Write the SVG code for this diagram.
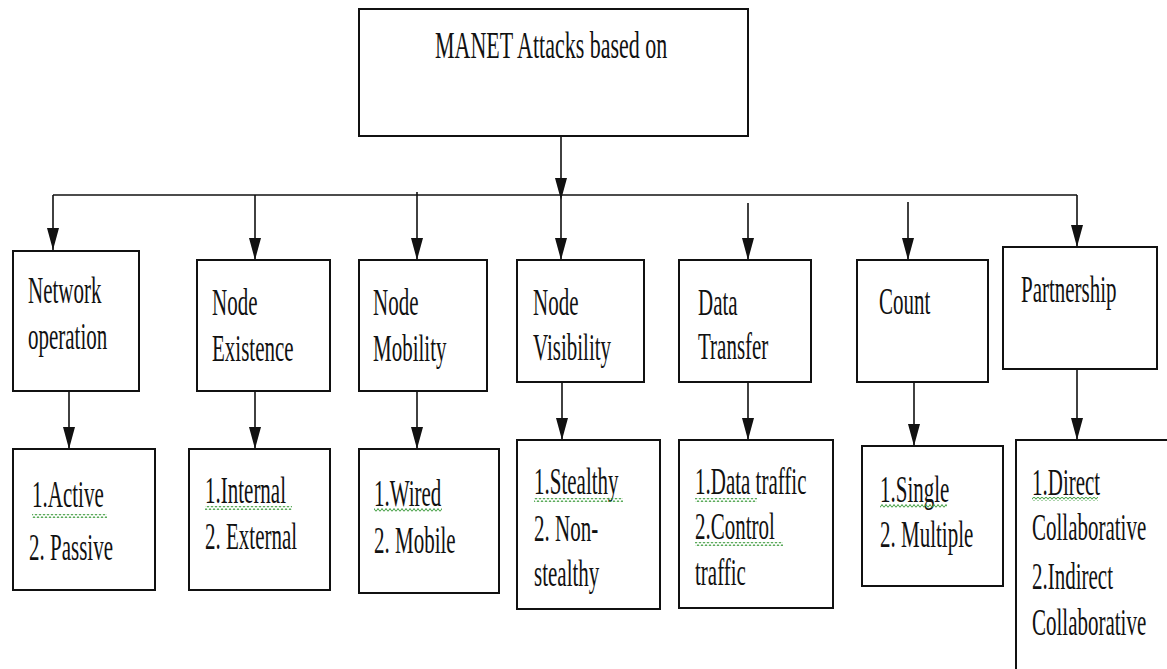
<svg xmlns="http://www.w3.org/2000/svg" width="1167" height="669" viewBox="0 0 1167 669">
<style>
  .box { fill: #fff; stroke: #111; stroke-width: 2; }
  .t { font-family: 'Liberation Serif', 'DejaVu Serif', serif; font-size: 21px; fill: #111; }
  .tt { font-family: 'Liberation Serif', 'DejaVu Serif', serif; font-size: 22px; fill: #111; }
  .ln { stroke: #111; stroke-width: 1.6; fill: none; }
  .arr { stroke: #111; stroke-width: 1.6; fill: none; marker-end: url(#ah); }
  .wav { fill: url(#wave); }
</style>
<defs>
  <marker id="ah" markerUnits="userSpaceOnUse" markerWidth="22" markerHeight="12" refX="22" refY="6" orient="auto">
    <path d="M0,0 L22,6 L0,12 z" fill="#111"/>
  </marker>
  <pattern id="wave" patternUnits="userSpaceOnUse" x="0" y="0" width="4" height="4">
    <path d="M0,3.5 L2,0.5 L4,3.5" stroke="#3a9a3a" stroke-width="1" fill="none"/>
  </pattern>
</defs>
<rect width="1167" height="669" fill="#fff"/>

<g id="connectors">
  <line class="arr" x1="561" y1="136" x2="561" y2="200"/>
  <line class="ln" x1="53" y1="195" x2="1077" y2="195"/>
  <line class="arr" x1="53" y1="195" x2="53" y2="250"/>
  <line class="arr" x1="255" y1="195" x2="255" y2="260"/>
  <line class="arr" x1="417" y1="192" x2="417" y2="260"/>
  <line class="arr" x1="561" y1="200" x2="561" y2="260"/>
  <line class="arr" x1="748" y1="203" x2="748" y2="260"/>
  <line class="arr" x1="908" y1="202" x2="908" y2="260"/>
  <line class="arr" x1="1077" y1="195" x2="1077" y2="247"/>
  <line class="arr" x1="69" y1="391" x2="69" y2="449"/>
  <line class="arr" x1="255" y1="391" x2="255" y2="449"/>
  <line class="arr" x1="417" y1="391" x2="417" y2="449"/>
  <line class="arr" x1="562" y1="370" x2="562" y2="440"/>
  <line class="arr" x1="748" y1="377" x2="748" y2="440"/>
  <line class="arr" x1="914" y1="382" x2="914" y2="446"/>
  <line class="arr" x1="1077" y1="369" x2="1077" y2="440"/>
</g>

<g id="root">
  <rect class="box" x="359" y="9" width="389" height="127"/>
  <text class="tt" font-family="Liberation Serif" transform="translate(435,58) scale(1,1.75)">MANET Attacks based on</text>
</g>

<g id="network-operation">
  <rect class="box" x="13" y="251" width="126" height="140"/>
  <text class="t" transform="translate(28,303) scale(1,1.8)">Network</text>
  <text class="t" transform="translate(28,349) scale(1,1.8)">operation</text>
</g>
<g id="node-existence">
  <rect class="box" x="197" y="260" width="133" height="131"/>
  <text class="t" transform="translate(212,315) scale(1,1.8)">Node</text>
  <text class="t" transform="translate(212,361) scale(1,1.8)">Existence</text>
</g>
<g id="node-mobility">
  <rect class="box" x="359" y="260" width="128" height="131"/>
  <text class="t" transform="translate(373,315) scale(1,1.8)">Node</text>
  <text class="t" transform="translate(373,361) scale(1,1.8)">Mobility</text>
</g>
<g id="node-visibility">
  <rect class="box" x="517" y="260" width="127" height="122"/>
  <text class="t" transform="translate(533,315) scale(1,1.8)">Node</text>
  <text class="t" transform="translate(533,360) scale(1,1.8)">Visibility</text>
</g>
<g id="data-transfer">
  <rect class="box" x="679" y="260" width="132" height="122"/>
  <text class="t" transform="translate(698,315) scale(1,1.8)">Data</text>
  <text class="t" transform="translate(698,359) scale(1,1.8)">Transfer</text>
</g>
<g id="count">
  <rect class="box" x="857" y="260" width="131" height="122"/>
  <text class="t" transform="translate(879,314) scale(1,1.8)">Count</text>
</g>
<g id="partnership">
  <rect class="box" x="1003" y="247" width="154" height="122"/>
  <text class="t" transform="translate(1021,302) scale(1,1.8)">Partnership</text>
</g>

<g id="active-passive">
  <rect class="box" x="13" y="449" width="142" height="141"/>
  <text class="t" transform="translate(32,507) scale(1,1.8)">1.Active</text>
  <rect class="wav" x="32" y="514" width="75" height="4"/>
  <text class="t" transform="translate(29,560) scale(1,1.8)">2. Passive</text>
</g>
<g id="internal-external">
  <rect class="box" x="189" y="449" width="141" height="141"/>
  <text class="t" transform="translate(205,503) scale(1,1.8)">1.Internal</text>
  <rect class="wav" x="205" y="506" width="87" height="4"/>
  <text class="t" transform="translate(205,549) scale(1,1.8)">2. External</text>
</g>
<g id="wired-mobile">
  <rect class="box" x="359" y="449" width="140" height="144"/>
  <text class="t" transform="translate(374,506) scale(1,1.8)">1.Wired</text>
  <rect class="wav" x="374" y="508" width="68" height="4"/>
  <text class="t" transform="translate(374,553) scale(1,1.8)">2. Mobile</text>
</g>
<g id="stealthy">
  <rect class="box" x="517" y="440" width="143" height="169"/>
  <text class="t" transform="translate(534,494) scale(1,1.8)">1.Stealthy</text>
  <rect class="wav" x="534" y="498" width="89" height="4"/>
  <text class="t" transform="translate(534,541) scale(1,1.8)">2. Non-</text>
  <text class="t" transform="translate(534,586) scale(1,1.8)">stealthy</text>
</g>
<g id="traffic">
  <rect class="box" x="679" y="440" width="154" height="168"/>
  <text class="t" transform="translate(695,494) scale(1,1.8)">1.Data traffic</text>
  <rect class="wav" x="695" y="498" width="62" height="4"/>
  <text class="t" transform="translate(695,539) scale(1,1.8)">2.Control</text>
  <rect class="wav" x="695" y="542" width="88" height="4"/>
  <text class="t" transform="translate(695,585) scale(1,1.8)">traffic</text>
</g>
<g id="single-multiple">
  <rect class="box" x="862" y="446" width="141" height="140"/>
  <text class="t" transform="translate(880,502) scale(1,1.8)">1.Single</text>
  <rect class="wav" x="880" y="504" width="67" height="4"/>
  <text class="t" transform="translate(880,547) scale(1,1.8)">2. Multiple</text>
</g>
<g id="collaborative">
  <rect class="box" x="1016" y="440" width="160" height="236"/>
  <text class="t" transform="translate(1032,495) scale(1,1.8)">1.Direct</text>
  <rect class="wav" x="1032" y="497" width="66" height="4"/>
  <text class="t" transform="translate(1032,540) scale(1,1.8)">Collaborative</text>
  <text class="t" transform="translate(1032,589) scale(1,1.8)">2.Indirect</text>
  <text class="t" transform="translate(1032,635) scale(1,1.8)">Collaborative</text>
</g>
</svg>
